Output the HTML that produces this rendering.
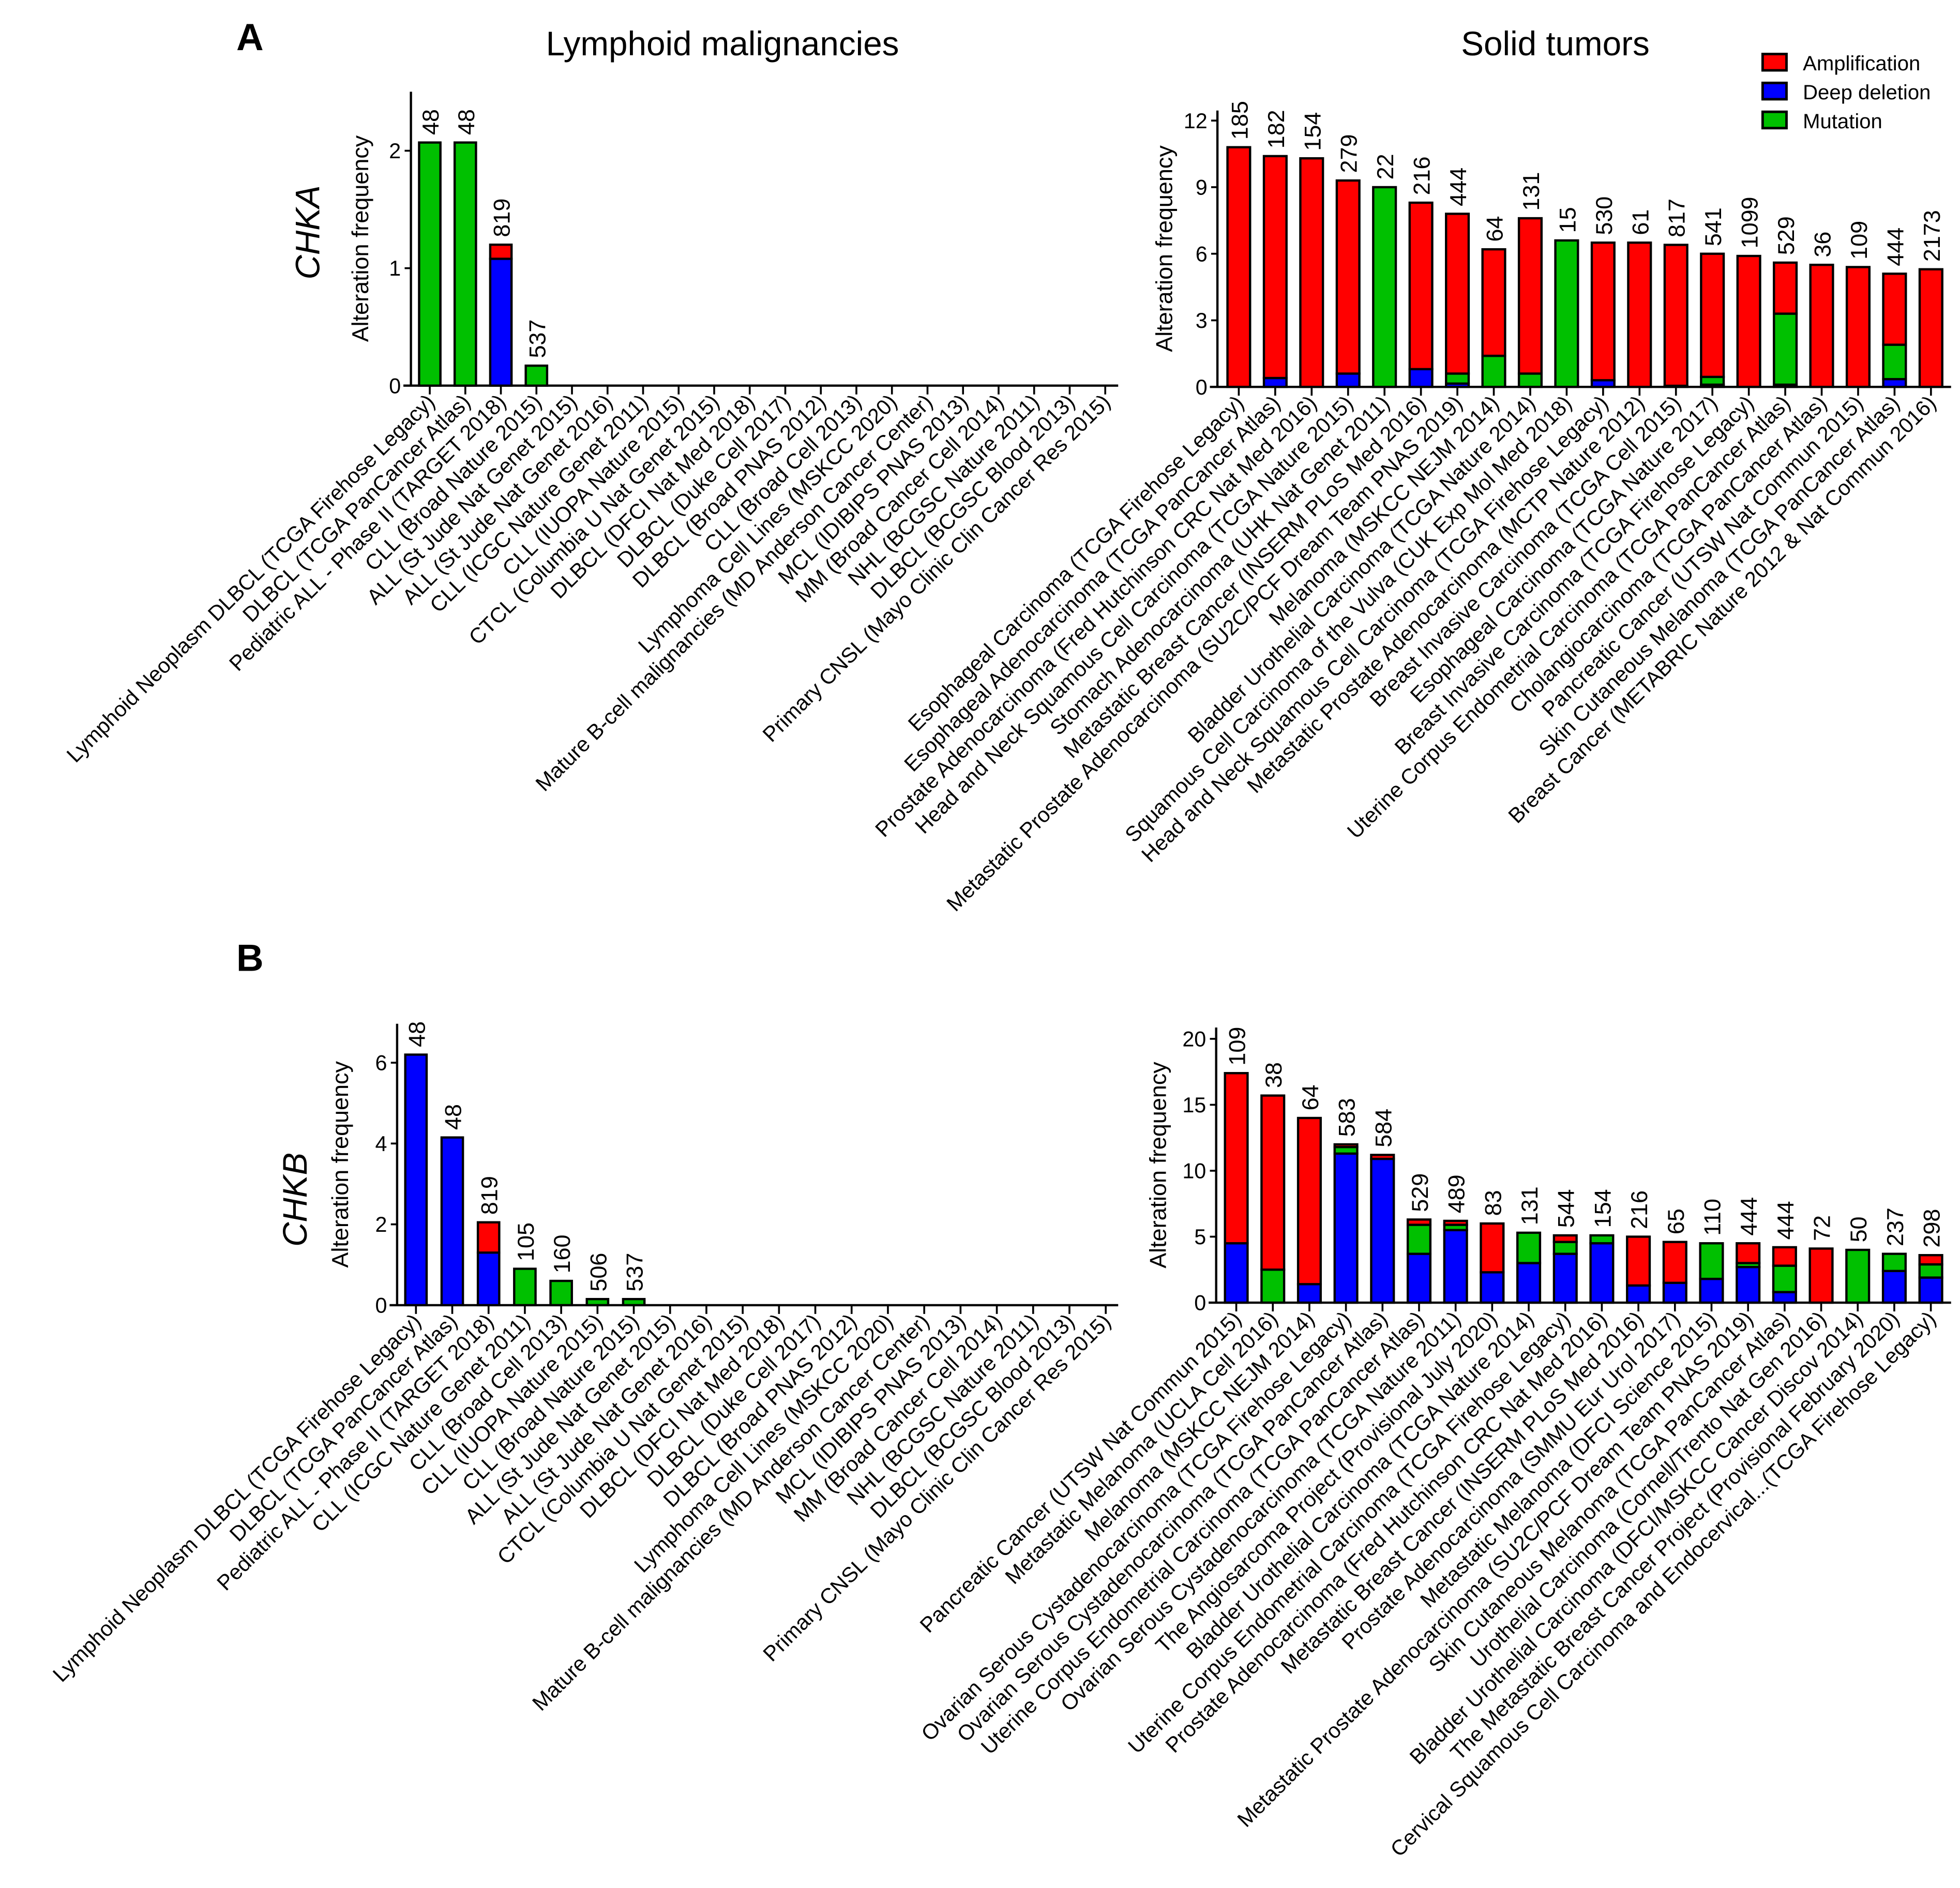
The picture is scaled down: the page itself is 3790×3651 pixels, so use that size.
<!DOCTYPE html>
<html><head><meta charset="utf-8"><style>
html,body{margin:0;padding:0;background:#fff}
svg{display:block}
text{font-family:"Liberation Sans",sans-serif;fill:#000}
</style></head><body>
<svg id="fig" width="3790" height="3651" viewBox="0 0 1560 1503" xmlns="http://www.w3.org/2000/svg">
<text x="188" y="40" font-size="30" font-weight="bold">A</text>
<text x="188" y="773" font-size="30" font-weight="bold">B</text>
<text x="575" y="44" font-size="27" text-anchor="middle">Lymphoid malignancies</text>
<text x="1238" y="44" font-size="27" text-anchor="middle">Solid tumors</text>
<text transform="translate(254,185) rotate(-90)" font-size="27" font-style="italic" text-anchor="middle">CHKA</text>
<text transform="translate(244,955) rotate(-90)" font-size="27" font-style="italic" text-anchor="middle">CHKB</text>
<g>
<rect x="1403" y="43" width="19" height="13" fill="#ff0000" stroke="#000" stroke-width="2"/>
<text x="1435" y="56" font-size="16.5">Amplification</text>
<rect x="1403" y="66" width="19" height="13" fill="#0000ff" stroke="#000" stroke-width="2"/>
<text x="1435" y="79" font-size="16.5">Deep deletion</text>
<rect x="1403" y="89" width="19" height="13" fill="#00c000" stroke="#000" stroke-width="2"/>
<text x="1435" y="102" font-size="16.5">Mutation</text>
</g>
</svg>
<script>
// Panel A, lymphoid
const aLeftCats = ["Lymphoid Neoplasm DLBCL (TCGA Firehose Legacy)","DLBCL (TCGA PanCancer Atlas)","Pediatric ALL - Phase II (TARGET 2018)","CLL (Broad Nature 2015)","ALL (St Jude Nat Genet 2015)","ALL (St Jude Nat Genet 2016)","CLL (ICGC Nature Genet 2011)","CLL (IUOPA Nature 2015)","CTCL (Columbia U Nat Genet 2015)","DLBCL (DFCI Nat Med 2018)","DLBCL (Duke Cell 2017)","DLBCL (Broad PNAS 2012)","CLL (Broad Cell 2013)","Lymphoma Cell Lines (MSKCC 2020)","Mature B-cell malignancies (MD Anderson Cancer Center)","MCL (IDIBIPS PNAS 2013)","MM (Broad Cancer Cell 2014)","NHL (BCGSC Nature 2011)","DLBCL (BCGSC Blood 2013)","Primary CNSL (Mayo Clinic Clin Cancer Res 2015)"];
const aLeftDel = [0,0,1.08,0,0,0,0,0,0,0,0,0,0,0,0,0,0,0,0,0];
const aLeftMut = [2.07,2.07,0,0.17,0,0,0,0,0,0,0,0,0,0,0,0,0,0,0,0];
const aLeftAmp = [0,0,0.12,0,0,0,0,0,0,0,0,0,0,0,0,0,0,0,0,0];
const aLeftN = ["48","48","819","537","","","","","","","","","","","","","","","",""];
const aLeftTicks = [0,1,2];
// Panel A, solid
const aRightCats = ["Esophageal Carcinoma (TCGA Firehose Legacy)","Esophageal Adenocarcinoma (TCGA PanCancer Atlas)","Prostate Adenocarcinoma (Fred Hutchinson CRC Nat Med 2016)","Head and Neck Squamous Cell Carcinoma (TCGA Nature 2015)","Stomach Adenocarcinoma (UHK Nat Genet 2011)","Metastatic Breast Cancer (INSERM PLoS Med 2016)","Metastatic Prostate Adenocarcinoma (SU2C/PCF Dream Team PNAS 2019)","Melanoma (MSKCC NEJM 2014)","Bladder Urothelial Carcinoma (TCGA Nature 2014)","Squamous Cell Carcinoma of the Vulva (CUK Exp Mol Med 2018)","Head and Neck Squamous Cell Carcinoma (TCGA Firehose Legacy)","Metastatic Prostate Adenocarcinoma (MCTP Nature 2012)","Breast Invasive Carcinoma (TCGA Cell 2015)","Esophageal Carcinoma (TCGA Nature 2017)","Breast Invasive Carcinoma (TCGA Firehose Legacy)","Uterine Corpus Endometrial Carcinoma (TCGA PanCancer Atlas)","Cholangiocarcinoma (TCGA PanCancer Atlas)","Pancreatic Cancer (UTSW Nat Commun 2015)","Skin Cutaneous Melanoma (TCGA PanCancer Atlas)","Breast Cancer (METABRIC Nature 2012 & Nat Commun 2016)"];
const aRightDel = [0,0.4,0,0.6,0,0.8,0.15,0,0,0,0.3,0,0,0.1,0,0.1,0,0,0.35,0];
const aRightMut = [0,0,0,0,9.0,0,0.45,1.4,0.6,6.6,0,0,0.05,0.35,0,3.2,0,0,1.55,0];
const aRightAmp = [10.8,10.0,10.3,8.7,0,7.5,7.2,4.8,7.0,0,6.2,6.5,6.35,5.55,5.9,2.3,5.5,5.4,3.2,5.3];
const aRightN = ["185","182","154","279","22","216","444","64","131","15","530","61","817","541","1099","529","36","109","444","2173"];
const aRightTicks = [0,3,6,9,12];
// Panel B, lymphoid
const bLeftCats = ["Lymphoid Neoplasm DLBCL (TCGA Firehose Legacy)","DLBCL (TCGA PanCancer Atlas)","Pediatric ALL - Phase II (TARGET 2018)","CLL (ICGC Nature Genet 2011)","CLL (Broad Cell 2013)","CLL (IUOPA Nature 2015)","CLL (Broad Nature 2015)","ALL (St Jude Nat Genet 2015)","ALL (St Jude Nat Genet 2016)","CTCL (Columbia U Nat Genet 2015)","DLBCL (DFCI Nat Med 2018)","DLBCL (Duke Cell 2017)","DLBCL (Broad PNAS 2012)","Lymphoma Cell Lines (MSKCC 2020)","Mature B-cell malignancies (MD Anderson Cancer Center)","MCL (IDIBIPS PNAS 2013)","MM (Broad Cancer Cell 2014)","NHL (BCGSC Nature 2011)","DLBCL (BCGSC Blood 2013)","Primary CNSL (Mayo Clinic Clin Cancer Res 2015)"];
const bLeftDel = [6.2,4.15,1.3,0,0,0,0,0,0,0,0,0,0,0,0,0,0,0,0,0];
const bLeftMut = [0,0,0,0.9,0.6,0.15,0.15,0,0,0,0,0,0,0,0,0,0,0,0,0];
const bLeftAmp = [0,0,0.75,0,0,0,0,0,0,0,0,0,0,0,0,0,0,0,0,0];
const bLeftN = ["48","48","819","105","160","506","537","","","","","","","","","","","","",""];
const bLeftTicks = [0,2,4,6];
// Panel B, solid
const bRightCats = ["Pancreatic Cancer (UTSW Nat Commun 2015)","Metastatic Melanoma (UCLA Cell 2016)","Melanoma (MSKCC NEJM 2014)","Ovarian Serous Cystadenocarcinoma (TCGA Firehose Legacy)","Ovarian Serous Cystadenocarcinoma (TCGA PanCancer Atlas)","Uterine Corpus Endometrial Carcinoma (TCGA PanCancer Atlas)","Ovarian Serous Cystadenocarcinoma (TCGA Nature 2011)","The Angiosarcoma Project (Provisional July 2020)","Bladder Urothelial Carcinoma (TCGA Nature 2014)","Uterine Corpus Endometrial Carcinoma (TCGA Firehose Legacy)","Prostate Adenocarcinoma (Fred Hutchinson CRC Nat Med 2016)","Metastatic Breast Cancer (INSERM PLoS Med 2016)","Prostate Adenocarcinoma (SMMU Eur Urol 2017)","Metastatic Melanoma (DFCI Science 2015)","Metastatic Prostate Adenocarcinoma (SU2C/PCF Dream Team PNAS 2019)","Skin Cutaneous Melanoma (TCGA PanCancer Atlas)","Urothelial Carcinoma (Cornell/Trento Nat Gen 2016)","Bladder Urothelial Carcinoma (DFCI/MSKCC Cancer Discov 2014)","The Metastatic Breast Cancer Project (Provisional February 2020)","Cervical Squamous Cell Carcinoma and Endocervical...(TCGA Firehose Legacy)"];
const bRightDel = [4.5,0,1.4,11.3,10.9,3.7,5.5,2.3,3.0,3.7,4.5,1.3,1.5,1.8,2.7,0.8,0,0,2.4,1.9];
const bRightMut = [0,2.5,0,0.5,0,2.2,0.4,0,2.3,0.9,0.6,0,0,2.7,0.3,2.0,0,4.0,1.3,1.0];
const bRightAmp = [12.9,13.2,12.6,0.2,0.3,0.4,0.3,3.7,0,0.5,0,3.7,3.1,0,1.5,1.4,4.1,0,0,0.7];
const bRightN = ["109","38","64","583","584","529","489","83","131","544","154","216","65","110","444","444","72","50","237","298"];
const bRightTicks = [0,5,10,15,20];

const NS = "http://www.w3.org/2000/svg";
const svg = document.getElementById('fig');
function mk(tag, attrs, parent){ const e=document.createElementNS(NS,tag); for(const k in attrs) e.setAttribute(k,attrs[k]); (parent||svg).appendChild(e); return e; }

function chart(cfg, cats, del, mut, amp, ns, ticks){
  const g = mk('g',{});
  
  
  const yScale = v => cfg.y0 - (v/cfg.ymax)*(cfg.y0-cfg.ytop);
  const xScale = i => cfg.x1 + i*cfg.step;
  const ya = mk('line',{x1:cfg.ax,y1:cfg.atop,x2:cfg.ax,y2:cfg.y0,stroke:'#000','stroke-width':1.8},g);
  
  
  const xa = mk('line',{x1:cfg.ax-6,y1:cfg.y0,x2:cfg.xend,y2:cfg.y0,stroke:'#000','stroke-width':1.8},g);
  
  
  ticks.forEach(t=>{
    const y=yScale(t);
    const tl = mk('line',{x1:cfg.ax-5,y1:y,x2:cfg.ax,y2:y,stroke:'#000','stroke-width':1.5},g);
    
    
    const tt = mk('text',{x:cfg.ax-8,y:y+6,'font-size':17,'text-anchor':'end'},g);
    tt.textContent = t;
    
    
  });
  const at = mk('text',{transform:`translate(${cfg.titleX},${(cfg.atop+cfg.y0)/2}) rotate(-90)`,'font-size':18.5,'text-anchor':'middle'},g);
  at.textContent = 'Alteration frequency';
  
  
  const bw = cfg.bw;
  cats.forEach((c,i)=>{
    const x = xScale(i);
    const tk = mk('line',{x1:x,y1:cfg.y0,x2:x,y2:cfg.y0+7,stroke:'#000','stroke-width':1.5},g);
    
    
    const lb = mk('text',{transform:`translate(${x+5},${cfg.y0+14}) rotate(-45)`,'font-size':17,'text-anchor':'end'},g);
    lb.textContent = c;
    
    
    let base = 0;
    [[del[i],'#0000ff','deep-deletion'],[mut[i],'#00c000','mutation'],[amp[i],'#ff0000','amplification']].forEach(([v,col,nm])=>{
      if(v<=0) return;
      const yt=yScale(base+v), yb=yScale(base);
      const r = mk('rect',{x:x-bw/2,y:yt,width:bw,height:yb-yt,fill:col,stroke:'#000','stroke-width':1.8},g);
      
      
      base += v;
    });
    if(ns[i]){
      const nt = mk('text',{transform:`translate(${x+7},${yScale(base)-6}) rotate(-90)`,'font-size':18.5,'text-anchor':'start'},g);
      nt.textContent = ns[i];
      
      
    }
  });
}
chart({name:'chka-lymphoid-chart',ax:327,atop:73,y0:307,ytop:120,ymax:2,x1:342,step:28.3,xend:890,bw:17,titleX:293}, aLeftCats,aLeftDel,aLeftMut,aLeftAmp,aLeftN,aLeftTicks);
chart({name:'chka-solid-chart',ax:969,atop:88,y0:308,ytop:96,ymax:12,x1:986,step:29,xend:1553,bw:18,titleX:933}, aRightCats,aRightDel,aRightMut,aRightAmp,aRightN,aRightTicks);
chart({name:'chkb-lymphoid-chart',ax:316,atop:815,y0:1039,ytop:846,ymax:6,x1:331,step:28.9,xend:890,bw:17,titleX:277}, bLeftCats,bLeftDel,bLeftMut,bLeftAmp,bLeftN,bLeftTicks);
chart({name:'chkb-solid-chart',ax:968,atop:818,y0:1037,ytop:827,ymax:20,x1:984,step:29.1,xend:1553,bw:18,titleX:928}, bRightCats,bRightDel,bRightMut,bRightAmp,bRightN,bRightTicks);
</script>
</body></html>
